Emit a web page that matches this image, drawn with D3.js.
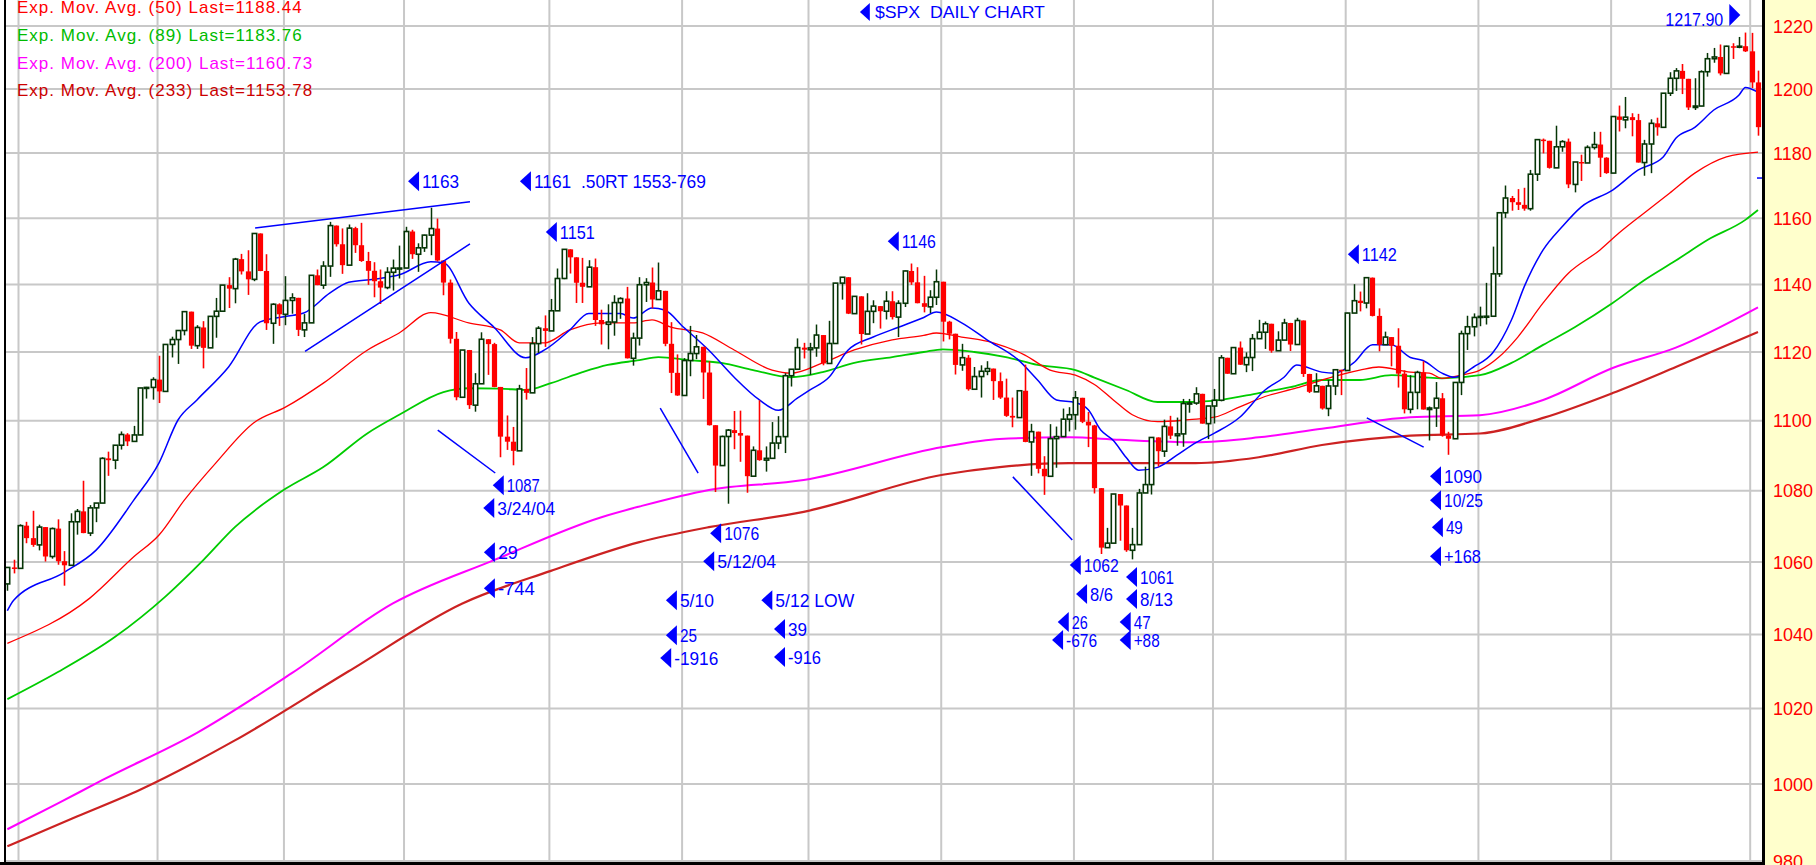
<!DOCTYPE html>
<html><head><meta charset="utf-8">
<script src="https://cdn.jsdelivr.net/npm/d3@7"></script>
<style>body{margin:0;background:#fff;overflow:hidden}svg{display:block}text{font-family:"Liberation Sans",Arial,sans-serif;white-space:pre}</style>
</head><body>
<svg id="c" width="1816" height="865"></svg>
<script>
// ---------- DATA ----------
const tradingDays = [
 ["2003-11","26 28"],
 ["2003-12","01 02 03 04 05 08 09 10 11 12 15 16 17 18 19 22 23 24 26 29 30 31"],
 ["2004-01","02 05 06 07 08 09 12 13 14 15 16 20 21 22 23 26 27 28 29 30"],
 ["2004-02","02 03 04 05 06 09 10 11 12 13 17 18 19 20 23 24 25 26 27"],
 ["2004-03","01 02 03 04 05 08 09 10 11 12 15 16 17 18 19 22 23 24 25 26 29 30 31"],
 ["2004-04","01 02 05 06 07 08 12 13 14 15 16 19 20 21 22 23 26 27 28 29 30"],
 ["2004-05","03 04 05 06 07 10 11 12 13 14 17 18 19 20 21 24 25 26 27 28"],
 ["2004-06","01 02 03 04 07 08 09 10 14 15 16 17 18 21 22 23 24 25 28 29 30"],
 ["2004-07","01 02 06 07 08 09 12 13 14 15 16 19 20 21 22 23 26 27 28 29 30"],
 ["2004-08","02 03 04 05 06 09 10 11 12 13 16 17 18 19 20 23 24 25 26 27 30 31"],
 ["2004-09","01 02 03 07 08 09 10 13 14 15 16 17 20 21 22 23 24 27 28 29 30"],
 ["2004-10","01 04 05 06 07 08 11 12 13 14 15 18 19 20 21 22 25 26 27 28 29"],
 ["2004-11","01 02 03 04 05 08 09 10 11 12 15 16 17 18 19 22 23 24 26 29 30"],
 ["2004-12","01 02 03 06 07 08 09 10 13 14 15 16 17 20 21 22 23 27 28 29 30 31"],
 ["2005-01","03 04"]
];
const dates = tradingDays.flatMap(([m,s]) => s.split(" ").map(d => m + "-" + d));
const monthStarts = ["2003-12-01","2004-01-02","2004-02-02","2004-03-01","2004-04-01","2004-05-03","2004-06-01","2004-07-01","2004-08-02","2004-09-01","2004-10-01","2004-11-01","2004-12-01","2005-01-03"];

const close = [1058.45,1058.20,
1070.12,1066.62,1064.73,1069.72,1061.50,1069.30,1060.18,1059.05,1071.21,1074.14,1068.04,1075.13,1076.48,1089.18,1088.66,1092.94,1096.02,1094.04,1095.89,1109.48,1109.64,1111.92,
1108.48,1122.22,1123.67,1126.33,1131.92,1121.86,1127.23,1121.22,1130.52,1132.05,1139.83,1138.77,1147.62,1143.94,1141.55,1155.37,1144.05,1128.48,1134.11,1131.13,
1135.26,1136.03,1126.52,1128.59,1142.76,1139.81,1145.54,1157.76,1152.11,1145.81,1156.99,1151.82,1147.06,1144.11,1140.99,1139.09,1143.67,1144.91,1144.94,
1155.97,1149.10,1151.03,1154.87,1156.86,1147.20,1140.58,1123.89,1106.78,1120.57,1104.49,1110.70,1123.75,1122.32,1109.78,1095.40,1093.95,1091.33,1109.19,1108.06,1122.47,1127.00,1126.21,
1132.17,1141.81,1150.57,1148.16,1140.53,1139.32,1145.20,1129.44,1128.17,1128.84,1134.61,1135.82,1118.15,1124.09,1139.93,1140.60,1135.53,1138.11,1122.41,1113.89,1107.30,
1117.49,1119.55,1121.53,1113.99,1098.70,1087.12,1095.45,1097.28,1096.44,1095.70,1084.10,1091.49,1088.68,1089.19,1093.56,1095.41,1113.05,1114.94,1121.28,1120.68,
1121.20,1124.99,1116.64,1122.50,1140.42,1142.18,1131.33,1136.47,1125.29,1132.01,1133.56,1132.05,1135.02,1130.30,1134.41,1144.06,1140.65,1134.43,1133.35,1136.20,1140.84,
1128.94,1125.38,1116.21,1118.33,1109.11,1112.81,1114.35,1115.14,1111.47,1106.69,1101.39,1100.90,1108.67,1093.88,1096.84,1086.20,1084.07,1094.83,1095.42,1100.43,1101.72,
1106.62,1099.69,1098.63,1080.70,1063.97,1065.22,1079.04,1075.79,1063.23,1064.80,1079.34,1081.71,1095.17,1091.23,1098.35,1095.68,1096.19,1104.96,1105.09,1107.77,1099.15,1104.24,
1105.91,1118.31,1113.63,1121.30,1116.27,1118.38,1123.92,1125.82,1128.33,1120.37,1123.50,1128.55,1122.20,1129.30,1113.56,1108.36,1110.11,1103.52,1110.06,1114.80,1114.58,
1131.50,1135.17,1134.48,1142.05,1130.65,1122.14,1124.39,1121.84,1113.65,1103.29,1108.20,1114.02,1103.23,1103.66,1106.49,1095.74,1094.80,1111.09,1125.40,1127.44,1130.20,
1130.51,1130.56,1143.20,1161.67,1166.17,1164.89,1164.08,1162.91,1173.48,1184.17,1183.81,1175.43,1181.94,1183.55,1170.34,1177.24,1176.94,1181.76,1182.65,1178.57,1173.82,
1191.37,1190.33,1191.17,1190.25,1177.07,1182.81,1189.24,1188.00,1198.68,1203.38,1205.72,1203.21,1194.20,1194.65,1205.45,1209.57,1210.13,1204.92,1213.54,1213.45,1213.55,1211.92,
1202.08,1188.05];

const open = [1053.89,1058.45,
1058.20,1070.12,1066.62,1064.73,1069.72,1061.50,1069.30,1060.18,1059.05,1071.21,1074.14,1068.04,1075.13,1076.48,1089.18,1088.66,1092.94,1096.02,1094.04,1095.89,1109.48,1109.64,
1111.92,1108.48,1122.22,1123.67,1126.33,1131.92,1121.86,1127.23,1121.22,1130.52,1132.05,1139.83,1138.77,1147.62,1143.94,1141.55,1155.37,1144.05,1128.48,1134.11,
1131.13,1135.26,1136.03,1126.52,1128.59,1142.76,1139.81,1145.54,1157.76,1152.11,1145.81,1156.99,1151.82,1147.06,1144.11,1140.99,1139.09,1143.67,1144.91,
1144.94,1155.97,1149.10,1151.03,1154.87,1156.86,1147.20,1140.58,1123.89,1106.78,1120.57,1104.49,1110.70,1123.75,1122.32,1109.78,1095.40,1093.95,1091.33,1109.19,1108.06,1122.47,1127.00,
1126.21,1132.17,1141.81,1150.57,1148.16,1140.53,1139.32,1145.20,1129.44,1128.17,1128.84,1134.61,1135.82,1118.15,1124.09,1139.93,1140.60,1135.53,1138.11,1122.41,1113.89,
1107.30,1117.49,1119.55,1121.53,1113.99,1098.70,1087.12,1095.45,1097.28,1096.44,1095.70,1084.10,1091.49,1088.68,1089.19,1093.56,1095.41,1113.05,1114.94,1121.28,
1120.68,1121.20,1124.99,1116.64,1122.50,1140.42,1142.18,1131.33,1136.47,1125.29,1132.01,1133.56,1132.05,1135.02,1130.30,1134.41,1144.06,1140.65,1134.43,1133.35,1136.20,
1140.84,1128.94,1125.38,1116.21,1118.33,1109.11,1112.81,1114.35,1115.14,1111.47,1106.69,1101.39,1100.90,1108.67,1093.88,1096.84,1086.20,1084.07,1094.83,1095.42,1100.43,
1101.72,1106.62,1099.69,1098.63,1080.70,1063.97,1065.22,1079.04,1075.79,1063.23,1064.80,1079.34,1081.71,1095.17,1091.23,1098.35,1095.68,1096.19,1104.96,1105.09,1107.77,1099.15,
1104.24,1105.91,1118.31,1113.63,1121.30,1116.27,1118.38,1123.92,1125.82,1128.33,1120.37,1123.50,1128.55,1122.20,1129.30,1113.56,1108.36,1110.11,1103.52,1110.06,1114.80,
1114.58,1131.50,1135.17,1134.48,1142.05,1130.65,1122.14,1124.39,1121.84,1113.65,1103.29,1108.20,1114.02,1103.23,1103.66,1106.49,1095.74,1094.80,1111.09,1125.40,1127.44,
1130.20,1130.51,1130.56,1143.20,1161.67,1166.17,1164.89,1164.08,1162.91,1173.48,1184.17,1183.81,1175.43,1181.94,1183.55,1170.34,1177.24,1176.94,1181.76,1182.65,1178.57,
1173.82,1191.37,1190.33,1191.17,1190.25,1177.07,1182.81,1189.24,1188.00,1198.68,1203.38,1205.72,1203.21,1194.20,1194.65,1205.45,1209.57,1210.13,1204.92,1213.54,1213.45,1213.55,
1211.92,1202.08];

const high = [1058.5,1060.6,
1070.5,1071.2,1074.3,1070.4,1069.7,1069.6,1071.9,1063.0,1073.6,1074.8,1082.8,1075.9,1076.5,1089.5,1091.1,1092.9,1096.9,1096.4,1098.5,1109.5,1109.8,1112.6,
1118.9,1122.2,1124.5,1126.3,1131.9,1131.1,1127.9,1129.1,1130.5,1136.0,1139.8,1142.2,1148.0,1149.2,1150.3,1155.4,1155.4,1149.1,1134.4,1134.4,
1142.5,1137.4,1136.0,1131.2,1142.8,1144.5,1147.0,1158.9,1157.8,1156.9,1158.1,1157.4,1158.6,1149.8,1146.7,1144.5,1145.2,1147.5,1151.7,
1157.4,1156.5,1152.4,1155.0,1163.2,1159.9,1147.3,1141.5,1125.9,1120.6,1120.6,1113.8,1125.8,1123.8,1122.7,1109.7,1101.5,1098.2,1110.4,1115.3,1124.4,1127.6,1130.8,
1135.7,1144.8,1150.6,1150.6,1148.2,1148.0,1147.3,1147.8,1132.5,1134.1,1136.8,1136.2,1139.3,1125.7,1142.2,1141.9,1145.1,1146.6,1138.1,1128.8,1119.3,
1118.2,1127.7,1125.0,1121.5,1117.3,1098.6,1095.7,1097.6,1102.8,1102.9,1094.8,1092.6,1105.9,1092.6,1099.6,1101.3,1113.8,1115.0,1124.0,1122.7,
1122.7,1128.1,1125.0,1129.2,1140.5,1142.2,1142.2,1136.5,1136.5,1137.4,1135.3,1133.6,1138.0,1138.0,1135.3,1144.2,1146.3,1145.2,1142.6,1138.3,1144.5,
1140.8,1129.2,1125.4,1122.4,1119.1,1115.6,1116.1,1117.3,1114.6,1114.0,1112.2,1106.7,1108.7,1116.3,1099.1,1096.8,1089.8,1099.0,1098.3,1103.5,1103.9,
1108.6,1106.6,1102.5,1098.8,1080.7,1069.5,1079.0,1079.0,1075.8,1069.5,1080.5,1086.8,1095.2,1095.2,1100.3,1101.4,1100.9,1106.3,1106.3,1109.7,1107.8,1104.2,
1109.2,1119.1,1117.2,1121.3,1123.1,1119.9,1125.3,1129.5,1129.0,1128.3,1126.1,1129.8,1128.6,1130.1,1129.3,1113.6,1113.8,1110.1,1111.8,1115.0,1114.8,
1131.6,1140.1,1137.9,1142.1,1142.1,1132.9,1126.0,1124.4,1127.0,1114.6,1113.2,1114.5,1117.3,1104.1,1111.2,1108.0,1096.8,1111.1,1126.3,1130.7,1131.4,
1133.4,1140.5,1151.4,1161.7,1170.0,1166.8,1168.9,1169.3,1174.8,1184.2,1184.5,1183.8,1188.5,1184.0,1184.5,1177.2,1179.5,1182.4,1186.6,1186.6,1178.7,
1191.4,1194.8,1197.5,1192.4,1192.2,1184.1,1190.5,1191.0,1198.7,1205.3,1206.6,1207.9,1203.2,1203.4,1205.9,1211.4,1213.0,1214.1,1213.7,1214.5,1216.5,1217.9,
1217.8,1205.8];

const low = [1052.0,1056.8,
1058.2,1065.2,1064.2,1063.2,1060.1,1060.9,1059.2,1053.4,1059.05,1067.6,1068.0,1067.2,1071.1,1076.5,1084.2,1086.1,1091.7,1092.7,1094.0,1095.9,1106.4,1106.1,
1105.1,1108.5,1118.4,1116.5,1124.9,1120.9,1120.9,1115.2,1121.2,1124.2,1132.1,1133.0,1134.4,1143.0,1136.9,1141.0,1144.0,1126.5,1122.4,1127.7,
1127.9,1131.3,1124.7,1124.4,1128.6,1139.8,1138.7,1142.3,1151.4,1143.2,1145.8,1149.5,1146.8,1139.9,1136.2,1134.2,1138.6,1138.2,1141.8,
1144.9,1147.7,1143.8,1149.8,1148.8,1146.9,1136.8,1122.5,1105.9,1106.8,1103.4,1102.6,1110.7,1113.3,1109.7,1089.5,1091.6,1087.2,1091.3,1106.1,1108.1,1119.7,1121.5,
1126.2,1132.2,1141.6,1143.3,1134.5,1134.5,1139.3,1127.7,1122.2,1120.8,1124.8,1129.8,1118.1,1116.0,1121.9,1134.8,1132.9,1135.5,1121.7,1108.0,1107.2,
1107.3,1112.9,1117.9,1106.3,1098.6,1079.6,1087.1,1076.3,1091.8,1088.2,1079.4,1084.1,1088.5,1085.4,1089.2,1091.8,1090.7,1109.9,1114.9,1118.1,
1113.3,1118.6,1116.1,1116.6,1122.5,1135.5,1131.2,1131.3,1122.2,1125.3,1128.5,1126.9,1129.6,1129.6,1124.4,1133.3,1139.9,1134.4,1131.7,1131.5,1133.9,
1123.1,1123.7,1113.4,1114.5,1108.7,1109.1,1106.7,1113.2,1106.0,1106.3,1101.1,1098.1,1100.9,1093.8,1084.2,1084.9,1078.8,1084.1,1086.5,1095.4,1096.9,
1097.4,1099.3,1092.4,1079.2,1062.2,1063.9,1065.2,1065.9,1062.8,1060.7,1064.8,1079.3,1078.9,1086.9,1089.6,1094.7,1092.8,1092.5,1102.3,1104.6,1099.2,1094.7,
1099.2,1105.6,1113.6,1113.6,1116.2,1114.1,1114.4,1123.9,1120.9,1119.8,1120.4,1123.5,1120.3,1122.2,1112.7,1108.0,1108.4,1103.2,1101.3,1107.4,1107.4,
1114.6,1131.5,1132.0,1132.9,1130.5,1120.2,1122.1,1115.8,1109.6,1102.1,1102.1,1103.3,1103.2,1094.3,1098.2,1095.4,1090.2,1094.8,1107.4,1120.6,1124.6,
1127.6,1128.1,1130.6,1142.3,1160.1,1162.3,1162.5,1162.3,1162.3,1171.4,1179.9,1175.2,1175.4,1180.4,1169.2,1167.9,1171.4,1177.0,1181.1,1172.6,1173.6,
1173.8,1186.7,1187.7,1185.2,1177.1,1173.0,1173.8,1185.4,1188.0,1197.8,1199.4,1198.4,1193.4,1193.4,1194.6,1203.9,1208.3,1204.3,1204.9,1209.5,1212.9,1211.7,
1200.3,1185.4];

// moving averages (bar number, value)
const emaBlueBar = [0,1,9,14,20,24,27,30,35,40,44,47,51,54,58,62,67,69,73,77,82,85,89,92,97,99,102,104,107,111,115,119,122,125,127,130,133,137,141,145,147,151,155,160,163,166,169,171,173,175,177,179,182,185,188,191,195,199,202,204,208,210,213,216,219,222,224,227,229,232,235,238,240,243,246,249,254,258,262,264,267,270,274,275,277];
const emaBlueVal = [1046.5,1049.4,1057.1,1063.2,1077.3,1087.9,1100.2,1106.0,1115.6,1128.9,1130.5,1131.6,1137.4,1140.7,1141.6,1142.9,1146.8,1146.5,1134.5,1127.3,1118.3,1120.6,1126.5,1131.4,1131.4,1130.0,1133.0,1132.4,1127.3,1120.5,1112.6,1106.0,1103.0,1106.5,1108.9,1112.6,1120.5,1124.4,1127.3,1130.2,1131.8,1128.6,1123.6,1117.6,1111.8,1106.0,1105.2,1103.2,1097.3,1094.3,1089.5,1085.8,1086.6,1090.0,1093.6,1096.4,1101.0,1108.9,1112.6,1116.2,1114.1,1113.8,1116.8,1122.1,1122.1,1118.4,1117.5,1113.8,1112.6,1115.6,1119.7,1129.5,1139.3,1150.4,1157.4,1163.4,1168.6,1174.7,1178.8,1184.6,1188.0,1193.4,1198.1,1200.5,1199.0];
const ema50Bar = [0,13,20,24,28,33,39,44,50,57,62,67,73,78,81,85,89,94,99,102,105,110,115,121,124,129,134,140,145,147,151,156,161,165,169,172,175,178,182,187,191,195,199,204,208,214,217,222,225,227,230,233,236,239,243,247,252,255,259,263,267,272,277];
const ema50Val = [1037.6,1049.9,1061.4,1067.5,1077.3,1087.9,1099.4,1103.9,1110.9,1120.6,1125.6,1131.6,1128.6,1126.5,1122.7,1122.7,1126.5,1128.6,1128.6,1129.5,1127.3,1125.6,1120.6,1114.7,1113.8,1116.8,1120.6,1123.6,1124.9,1125.6,1124.4,1122.7,1119.1,1114.7,1113.2,1110.5,1106.0,1101.7,1099.7,1100.3,1101.0,1104.0,1107.0,1109.5,1111.8,1114.7,1115.6,1114.1,1113.8,1112.3,1113.2,1114.7,1118.5,1124.4,1134.5,1143.4,1150.4,1155.5,1161.6,1167.6,1173.8,1178.8,1180.3];
const ema89Bar = [0,8,17,25,31,36,44,50,57,62,69,73,78,82,86,91,95,100,103,108,113,118,124,129,134,140,145,148,153,158,163,169,172,177,182,187,192,198,203,208,214,219,224,227,233,238,243,248,254,259,264,269,275,277];
const ema89Val = [1022.5,1029.8,1039.3,1050.4,1060.5,1069.7,1080.5,1086.7,1096.4,1101.7,1108.3,1109.4,1109.3,1108.9,1110.9,1114.1,1116.2,1117.6,1118.5,1117.6,1116.8,1114.7,1112.6,1114.1,1116.8,1118.5,1120.0,1120.8,1120.0,1118.5,1116.2,1114.7,1112.5,1108.9,1105.4,1105.4,1106.0,1108.0,1109.7,1111.8,1111.8,1113.2,1112.6,1112.3,1113.2,1116.8,1122.1,1127.3,1134.5,1141.3,1147.2,1153.4,1159.5,1162.5];
const ema200Bar = [0,8,15,30,45,61,77,94,100,111,126,148,157,168,176,188,198,208,222,233,243,254,264,277];
const ema200Val = [988.2,994.9,1001.0,1013.5,1029.5,1048.5,1060.5,1072.5,1075.5,1080.2,1083.0,1092.4,1094.7,1095.2,1094.5,1093.8,1095.2,1097.7,1101.0,1101.6,1106.0,1115.3,1121.3,1133.2];
const ema233Bar = [0,11,21,36,54,72,86,100,111,126,148,157,168,188,198,208,222,233,243,254,264,277];
const ema233Val = [983.8,991.5,998.5,1011.5,1030.0,1048.5,1057.5,1065.5,1069.7,1074.0,1084.5,1086.7,1087.8,1087.8,1089.5,1093.0,1095.7,1096.3,1100.8,1108.0,1115.6,1125.9];

const yTicks = [980,1000,1020,1040,1060,1080,1100,1120,1140,1160,1180,1200,1220];
const legendLines = ["Exp. Mov. Avg. (50) Last=1188.44","Exp. Mov. Avg. (89) Last=1183.76","Exp. Mov. Avg. (200) Last=1160.73","Exp. Mov. Avg. (233) Last=1153.78"];

// hand-drawn trend lines: [bar0, price0, bar1, price1]
const trendLines = [[39.2,1157.0,73.2,1165.0],[47.1,1120.2,73.2,1152.2],[68.1,1097.3,77.2,1085.0],[103.3,1103.6,109.3,1085.0],[159.1,1083.9,168.5,1066.1],[215.1,1100.8,224.1,1092.4]];
// annotations: [text, bar, price]
const notes = [
 ["1163",63.4,1171.3],["1161  .50RT 1553-769",81.1,1171.3],["1151",85.2,1155.8],["1146",139.3,1153.0],["1142",212.1,1149.1],
 ["1087",76.8,1081.5],["3/24/04",75.3,1075.1],["29",75.4,1062.7],["-744",75.4,1052.7],
 ["1076",111.2,1068.0],["5/12/04",110.1,1060.2],["5/10",104.2,1049.4],["25",104.2,1039.8],["-1916",103.3,1033.6],
 ["5/12 LOW",119.3,1049.4],["39",121.3,1041.5],["-916",121.3,1033.9],
 ["1062",168.1,1059.1],["8/6",169.1,1051.1],["26",166.2,1043.4],["-676",165.3,1038.5],
 ["1061",177.0,1055.8],["8/13",177.0,1049.7],["47",176.0,1043.4],["+88",176.0,1038.5],
 ["1090",225.1,1084.1],["10/25",225.1,1077.3],["49",225.4,1069.7],["+168",225.1,1061.6]
];
const noteWidths = [37,172,35,34,35,33,58,20,37,35,59,34,17,44,79,19,33,35,23,16,31,34,33,17,26,38,39,17,37];

// ---------- DRAW ----------
const svg = d3.select("#c");
const L = 5, R = 1763, B = 862;
const x = d3.scaleLinear().domain([0, dates.length - 1]).range([7.36, 1758]);
const y = d3.scaleLog().domain([980, 1220]).range([861, 26]);

svg.append("rect").attr("width",1816).attr("height",865).attr("fill","#fff");
svg.append("rect").attr("x",R).attr("y",0).attr("width",1816-R).attr("height",865).attr("fill","#ffffcc");

svg.append("defs").append("clipPath").attr("id","clip").append("rect").attr("x",L).attr("y",0).attr("width",R-L).attr("height",B);
const plot = svg.append("g").attr("clip-path","url(#clip)");

// grid
plot.append("g").selectAll("line").data(yTicks).join("line")
  .attr("x1",L).attr("x2",R).attr("y1",d=>y(d)).attr("y2",d=>y(d))
  .attr("stroke","#c8c8c8").attr("stroke-width",2);
plot.append("g").selectAll("line").data(monthStarts).join("line")
  .attr("x1",d=>x(dates.indexOf(d))-1.5).attr("x2",d=>x(dates.indexOf(d))-1.5).attr("y1",0).attr("y2",B)
  .attr("stroke","#c8c8c8").attr("stroke-width",2);

// moving averages
const lineGen = d3.line().x(d=>x(d[0])).y(d=>y(d[1])).curve(d3.curveMonotoneX);
const mas = [
  [ema233Bar, ema233Val, "#cc2222", 2.2],
  [ema200Bar, ema200Val, "#ff00ff", 2],
  [ema89Bar, ema89Val, "#00cc00", 1.8],
  [ema50Bar, ema50Val, "#ff0000", 1.3],
  [emaBlueBar, emaBlueVal, "#0000ff", 1.5]
];
mas.forEach(([b,v,c,w]) => {
  plot.append("path").attr("d", lineGen(b.map((bi,k)=>[bi, v[k]])))
    .attr("fill","none").attr("stroke",c).attr("stroke-width",w);
});

// candles
const bars = dates.map((d,i)=>({i, o:open[i], h:Math.max(high[i],open[i],close[i]), l:Math.min(low[i],open[i],close[i]), c:close[i]}));
const cg = plot.append("g");
bars.forEach(b => {
  const cx = Math.round(x(b.i)) + 0.5;
  const up = b.c >= b.o;
  const top = y(Math.max(b.o,b.c)), bot = y(Math.min(b.o,b.c));
  if (up) {
    cg.append("line").attr("x1",cx).attr("x2",cx).attr("y1",y(b.h)).attr("y2",top).attr("stroke","#063506").attr("stroke-width",1.5);
    cg.append("line").attr("x1",cx).attr("x2",cx).attr("y1",bot).attr("y2",y(b.l)).attr("stroke","#063506").attr("stroke-width",1.5);
    cg.append("rect").attr("x",cx-2.2).attr("y",top).attr("width",4.4).attr("height",Math.max(1,bot-top))
      .attr("fill","#fff").attr("stroke","#063506").attr("stroke-width",1.6);
  } else {
    cg.append("line").attr("x1",cx).attr("x2",cx).attr("y1",y(b.h)).attr("y2",y(b.l)).attr("stroke","#ff0000").attr("stroke-width",1.6);
    cg.append("rect").attr("x",cx-2.6).attr("y",top).attr("width",5.2).attr("height",Math.max(1.5,bot-top)).attr("fill","#ff0000");
  }
});

// trend lines
plot.append("g").selectAll("line").data(trendLines).join("line")
  .attr("x1",d=>x(d[0])).attr("y1",d=>y(d[1])).attr("x2",d=>x(d[2])).attr("y2",d=>y(d[3]))
  .attr("stroke","#0000ff").attr("stroke-width",1.5);
// small marker at right edge
plot.append("line").attr("x1",x(277)-1).attr("x2",R).attr("y1",y(1172.3)).attr("y2",y(1172.3)).attr("stroke","#0000ff").attr("stroke-width",1.5);

// frame
svg.append("rect").attr("x",L-1).attr("y",0).attr("width",2).attr("height",B).attr("fill","#000");
svg.append("rect").attr("x",0).attr("y",B).attr("width",R+2).attr("height",3).attr("fill","#000");
svg.append("rect").attr("x",R-1).attr("y",0).attr("width",3).attr("height",865).attr("fill","#000");

// y axis
const ax = svg.append("g").attr("transform",`translate(${R+8},0)`)
  .call(d3.axisRight(y).tickValues(yTicks).tickSize(0).tickPadding(2).tickFormat(d3.format("d")));
ax.select(".domain").remove();
ax.selectAll("text").attr("fill","#ff0000").attr("font-size",18).attr("dy","0.35em")
  .style("font-family",'"Liberation Sans",Arial,sans-serif');

// legend
const legColors = ["#ff0000","#00bb00","#ff00ff","#cc0000"];
svg.append("g").selectAll("text").data(legendLines).join("text")
  .attr("x",17).attr("y",(d,k)=>7+k*27.7).attr("dy","0.36em")
  .attr("font-size",17).attr("letter-spacing",1).attr("fill",(d,k)=>legColors[k]).text(d=>d);

// annotations
const blue = "#0000ff";
const tri = "M0,0 L11,-10 L11,10 Z";
const ng = svg.append("g");
notes.forEach(([t,b,p],k) => {
  const tx = x(b), ty = y(p);
  ng.append("path").attr("d",tri).attr("transform",`translate(${tx},${ty})`).attr("fill",blue);
  ng.append("text").attr("x",tx+14).attr("y",ty).attr("dy","0.36em").attr("font-size",19)
    .attr("fill",blue).attr("textLength",noteWidths[k]).attr("lengthAdjust","spacingAndGlyphs").text(t);
});
// title
{
  const tx = x(134.9), ty = y(1224.5);
  ng.append("path").attr("d",tri).attr("transform",`translate(${tx},${ty}) scale(0.9)`).attr("fill",blue);
  ng.append("text").attr("x",tx+15).attr("y",ty).attr("dy","0.36em").attr("font-size",17)
    .attr("fill",blue).attr("textLength",170).attr("lengthAdjust","spacingAndGlyphs").text("$SPX  DAILY CHART");
}
// last high marker (right-pointing)
{
  const tx = x(274.2), ty = y(1223.5);
  ng.append("path").attr("d","M0,0 L-11,-11 L-11,11 Z").attr("transform",`translate(${tx},${ty})`).attr("fill",blue);
  ng.append("text").attr("x",tx-17).attr("y",ty+4).attr("dy","0.36em").attr("font-size",19).attr("text-anchor","end")
    .attr("fill",blue).attr("textLength",58).attr("lengthAdjust","spacingAndGlyphs").text("1217.90");
}
</script>
</body></html>
